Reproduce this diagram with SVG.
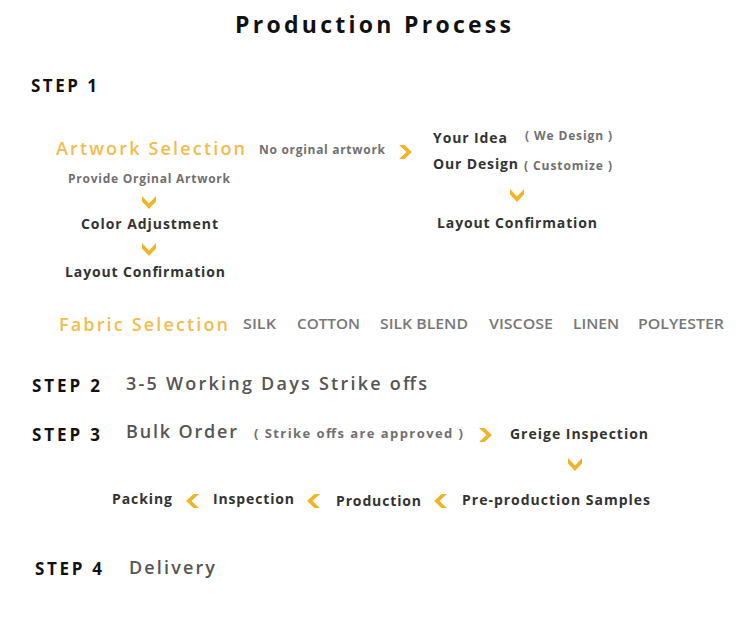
<svg xmlns="http://www.w3.org/2000/svg" width="750" height="634" viewBox="0 0 750 634">
<defs>
<style>
text{font-family:"Open Sans","Noto Sans","Liberation Sans",sans-serif;font-weight:700}
.title{font-size:23px;fill:#111}
.step{font-size:17px;fill:#111}
.orange{font-size:18px;fill:#f2bb4e;font-weight:600}
.big{font-size:18px;fill:#555;font-weight:600}
.node{font-size:14px;fill:#333}
.small{font-size:12px;fill:#707070}
.fab{font-size:14px;fill:#777;font-weight:600}
.chev{fill:#f0b429}
</style>
<polygon id="cr" points="0,0 5.5,0 13,7 5.5,14 0,14 7.5,7"/>
<polygon id="cd" points="0,0 7,7.5 14,0 14,5.5 7,13 0,5.5"/>
<polygon id="cl" points="13,0 7.5,0 0,7 7.5,14 13,14 5.5,7"/>
</defs>
<rect width="750" height="634" fill="#fff"/>
<g id="title"><text class="title" x="235" y="33" textLength="276" lengthAdjust="spacing">Production Process</text></g>

<g id="step1"><text class="step" x="31" y="92" textLength="66" lengthAdjust="spacing">STEP 1</text></g>
<g id="artwork-selection"><text class="orange" x="56" y="155" textLength="189" lengthAdjust="spacing">Artwork Selection</text></g>
<g id="no-original"><text class="small" x="259" y="154" textLength="126" lengthAdjust="spacing">No orginal artwork</text></g>
<g id="your-idea"><text class="node" x="433" y="143" textLength="74" lengthAdjust="spacing">Your Idea</text><text class="small" x="525" y="140" textLength="87" lengthAdjust="spacing">( We Design )</text></g>
<g id="our-design"><text class="node" x="433" y="169" textLength="85" lengthAdjust="spacing">Our Design</text><text class="small" x="524" y="170" textLength="88" lengthAdjust="spacing">( Customize )</text></g>
<g id="layout-confirmation-right"><text class="node" x="437" y="228" textLength="160" lengthAdjust="spacing">Layout Confirmation</text></g>
<g id="provide-original"><text class="small" x="68" y="183" textLength="162" lengthAdjust="spacing">Provide Orginal Artwork</text></g>
<g id="color-adjustment"><text class="node" x="81" y="229" textLength="137" lengthAdjust="spacing">Color Adjustment</text></g>
<g id="layout-confirmation-left"><text class="node" x="65" y="277" textLength="160" lengthAdjust="spacing">Layout Confirmation</text></g>

<g id="fabric-selection"><text class="orange" x="59" y="331" textLength="169" lengthAdjust="spacing">Fabric Selection</text></g>
<g id="fabrics">
<text class="fab" x="243" y="329" textLength="33" lengthAdjust="spacingAndGlyphs">SILK</text>
<text class="fab" x="297" y="329" textLength="63" lengthAdjust="spacingAndGlyphs">COTTON</text>
<text class="fab" x="380" y="329" textLength="88" lengthAdjust="spacingAndGlyphs">SILK BLEND</text>
<text class="fab" x="489" y="329" textLength="64" lengthAdjust="spacingAndGlyphs">VISCOSE</text>
<text class="fab" x="573" y="329" textLength="46" lengthAdjust="spacingAndGlyphs">LINEN</text>
<text class="fab" x="638" y="329" textLength="86" lengthAdjust="spacingAndGlyphs">POLYESTER</text>
</g>

<g id="step2"><text class="step" x="32" y="392" textLength="68" lengthAdjust="spacing">STEP 2</text></g>
<g id="strike-offs"><text class="big" x="126" y="390" textLength="301" lengthAdjust="spacing">3-5 Working Days Strike offs</text></g>
<g id="step3"><text class="step" x="32" y="441" textLength="68" lengthAdjust="spacing">STEP 3</text></g>
<g id="bulk-order"><text class="big" x="126" y="438" textLength="111" lengthAdjust="spacing">Bulk Order</text><text class="small" x="254" y="438" textLength="209" lengthAdjust="spacing" style="font-size:13px">( Strike offs are approved )</text></g>
<g id="greige-inspection"><text class="node" x="510" y="439" textLength="138" lengthAdjust="spacing">Greige Inspection</text></g>
<g id="pre-production"><text class="node" x="462" y="505" textLength="188" lengthAdjust="spacing">Pre-production Samples</text></g>
<g id="production"><text class="node" x="336" y="506" textLength="85" lengthAdjust="spacing">Production</text></g>
<g id="inspection"><text class="node" x="213" y="504" textLength="81" lengthAdjust="spacing">Inspection</text></g>
<g id="packing"><text class="node" x="112" y="504" textLength="60" lengthAdjust="spacing">Packing</text></g>
<g id="step4"><text class="step" x="35" y="575" textLength="67" lengthAdjust="spacing">STEP 4</text></g>
<g id="delivery"><text class="big" x="129" y="574" textLength="86" lengthAdjust="spacing">Delivery</text></g>

<g id="connectors" class="chev">
<use href="#cr" x="399" y="145"/>
<use href="#cd" x="510" y="189"/>
<use href="#cd" x="142" y="196"/>
<use href="#cd" x="142" y="243"/>
<use href="#cr" x="479" y="428"/>
<use href="#cd" x="568" y="458"/>
<use href="#cl" x="434" y="494"/>
<use href="#cl" x="307" y="494"/>
<use href="#cl" x="186" y="494"/>
</g>
</svg>
